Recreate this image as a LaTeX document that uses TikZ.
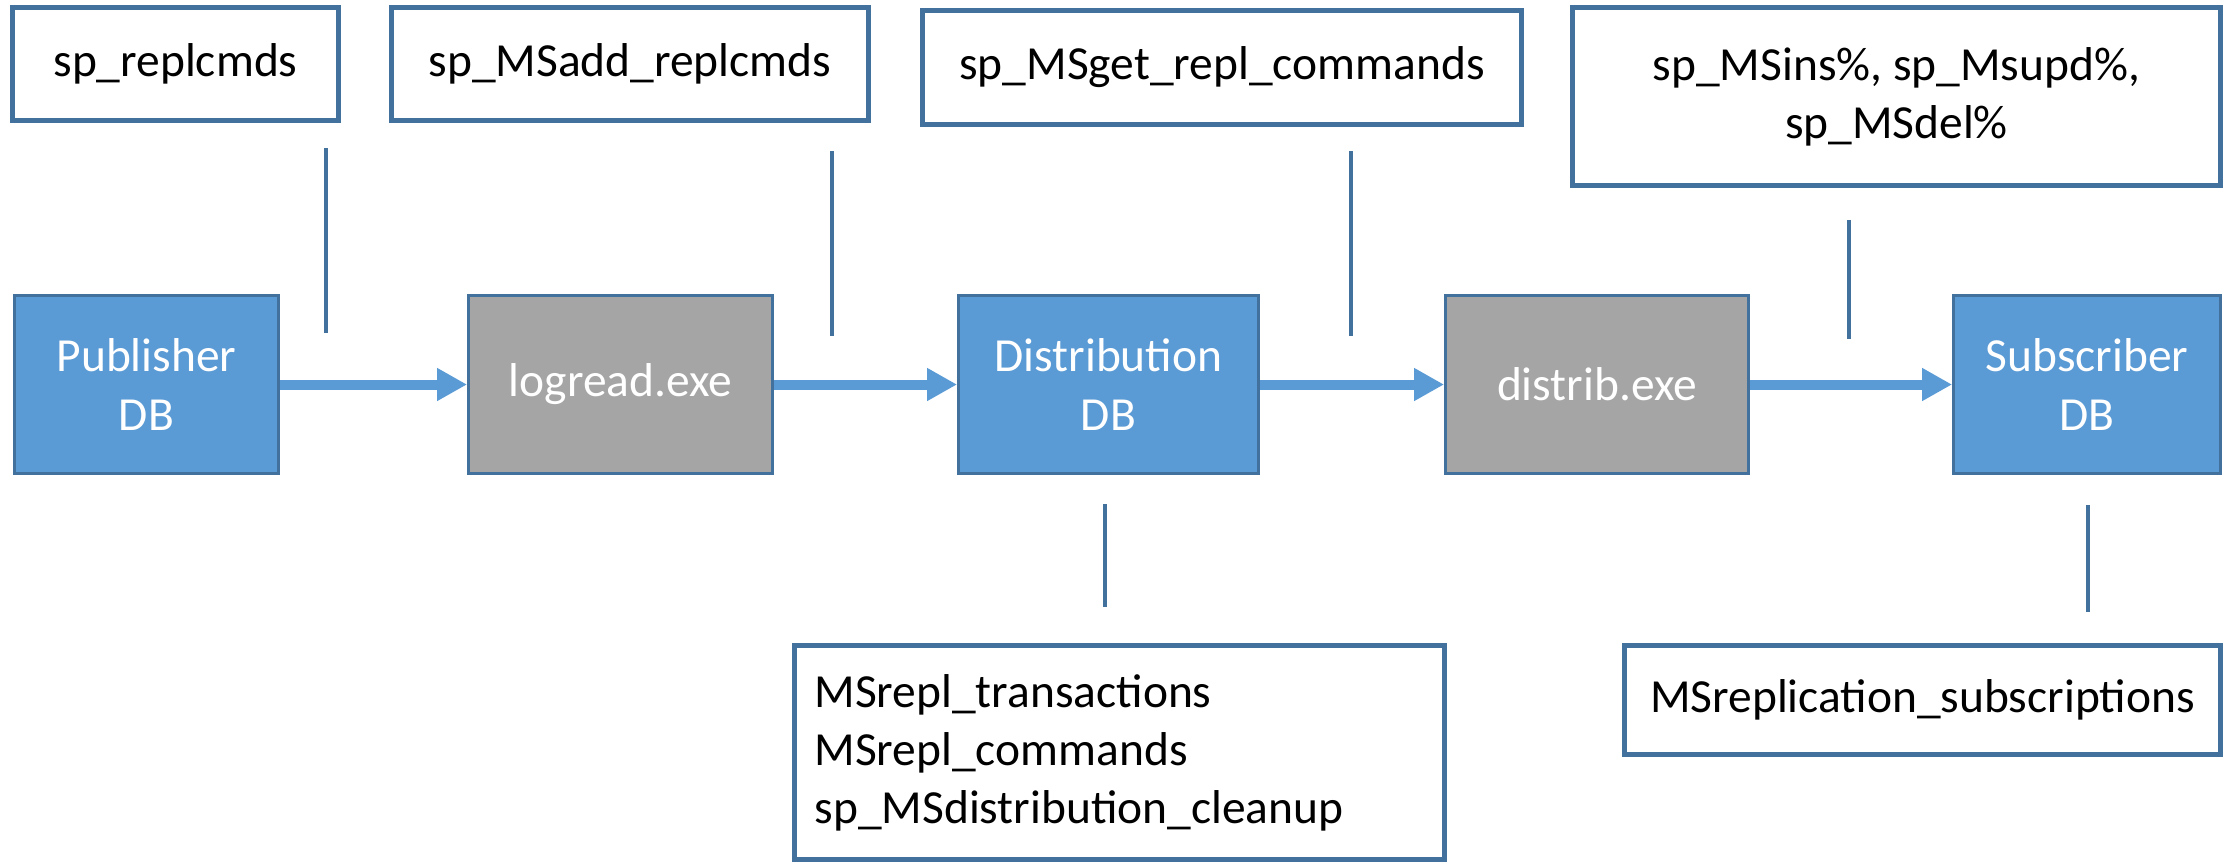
\documentclass[tikz,border=0pt]{standalone}
\usepackage{fontspec}
\setmainfont{Carlito}
\usetikzlibrary{arrows.meta}
\definecolor{bluefill}{HTML}{5B9BD5}
\definecolor{blueline}{HTML}{41719C}
\definecolor{grayfill}{HTML}{A5A5A5}
\tikzset{
  txtbox/.style={draw=blueline, line width=1.56pt, fill=white, inner sep=0pt, align=center,
    font=\fontsize{13.5}{16.5}\selectfont, text=black},
  dbbox/.style={draw=blueline, line width=0.77pt, fill=bluefill, inner sep=0pt, align=center,
    font=\fontsize{13.5}{16.5}\selectfont, text=white, minimum height=1.78cm},
  exebox/.style={dbbox, fill=grayfill},
  flow/.style={draw=bluefill, line width=2.85pt, -{Triangle[length=0.3cm,width=0.31cm]}},
  tick/.style={draw=blueline, line width=1.14pt},
}
\begin{document}
\begin{tikzpicture}[x=0.01cm,y=-0.01cm]
\useasboundingbox (0,0) rectangle (2233,863);
% top text boxes
\node[txtbox, minimum width=3.255cm, minimum height=1.125cm] (t1) at (175.5,64) {sp\_replcmds};
\node[txtbox, minimum width=4.765cm, minimum height=1.125cm] (t2) at (630,64) {sp\_MSadd\_replcmds};
\node[txtbox, minimum width=5.985cm, minimum height=1.135cm] (t3) at (1222,67.5) {sp\_MSget\_repl\_commands};
\node[txtbox, minimum width=6.475cm, minimum height=1.775cm] (t4) at (1896.5,96.5) {sp\_MSins\%, sp\_Msupd\%,\\sp\_MSdel\%};
% bottom text boxes
\node[txtbox, align=left, text width=6.095cm, inner xsep=0.2cm, minimum height=2.135cm] (b1) at (1119.5,752.5) {MSrepl\_transactions\\MSrepl\_commands\\sp\_MSdistribution\_cleanup};
\node[txtbox, minimum width=5.955cm, minimum height=1.085cm] (b2) at (1922.5,700) {MSreplication\_subscriptions};
% main row
\node[dbbox, minimum width=2.64cm] (pub) at (146.5,384.5) {Publisher\\DB};
\node[exebox, minimum width=3.04cm] (log) at (620.5,384.5) {logread.exe};
\node[dbbox, minimum width=3.00cm] (dist) at (1108.5,384.5) {Distribution\\DB};
\node[exebox, minimum width=3.03cm] (dexe) at (1597,384.5) {distrib.exe};
\node[dbbox, minimum width=2.67cm] (sub) at (2087,384.5) {Subscriber\\DB};
% arrows
\draw[flow] (pub.east) -- (log.west);
\draw[flow] (log.east) -- (dist.west);
\draw[flow] (dist.east) -- (dexe.west);
\draw[flow] (dexe.east) -- (sub.west);
% tick lines
\coordinate (l1a) at (326,148); \coordinate (l1b) at (326,333);
\coordinate (l2a) at (832,151); \coordinate (l2b) at (832,336);
\coordinate (l3a) at (1351,151); \coordinate (l3b) at (1351,336);
\coordinate (l4a) at (1849,220); \coordinate (l4b) at (1849,339);
\coordinate (l5a) at (1105,504); \coordinate (l5b) at (1105,607);
\coordinate (l6a) at (2088,505); \coordinate (l6b) at (2088,612);
\draw[tick] (l1a) -- (l1b);
\draw[tick] (l2a) -- (l2b);
\draw[tick] (l3a) -- (l3b);
\draw[tick] (l4a) -- (l4b);
\draw[tick] (l5a) -- (l5b);
\draw[tick] (l6a) -- (l6b);
\end{tikzpicture}
\end{document}
